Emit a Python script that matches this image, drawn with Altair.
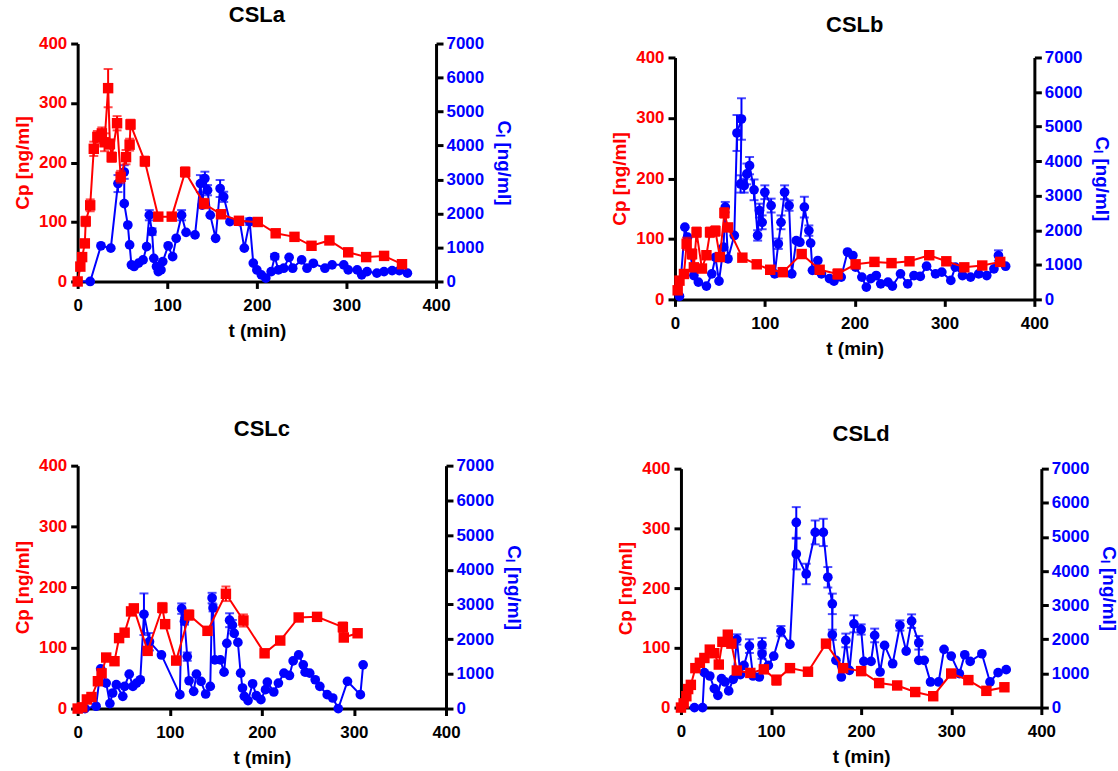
import altair as alt
import pandas as pd

# ---------------- CSLa ----------------
a_red_t = [0, 3, 5, 8, 9, 14, 18, 22, 27, 30, 34, 36, 38, 44, 48, 54, 58, 59, 75, 90, 105, 120, 141, 160, 180, 201, 221, 242, 261, 281, 302, 322, 342, 362]
a_red_v = [0, 25, 41, 64, 101, 128, 223, 243, 249, 234, 325, 231, 209, 266, 176, 209, 230, 264, 202, 109, 109, 184, 131, 113, 102, 100, 81, 75, 60, 69, 49, 41, 43, 29]
a_red_sd = [0, 0, 0, 5, 8, 10, 12, 10, 10, 15, 32, 8, 8, 12, 10, 12, 10, 8, 8, 0, 0, 8, 8, 0, 0, 0, 0, 5, 0, 0, 0, 0, 6, 0]

a_blue_t = [0, 14, 26, 37, 45, 52, 52, 56, 58, 60,
            63, 68, 73, 77, 80, 83, 85, 88, 90, 93,
            95, 101, 106, 110, 116, 121, 131, 137, 139, 142,
            145, 148, 154, 159, 163, 170, 181, 186, 192, 196,
            200, 205, 210, 216, 220, 224, 230, 236, 240, 250,
            256, 263, 276, 284, 297, 302, 312, 317, 323, 334,
            342, 351, 359, 368]
a_blue_v = [0, 0, 1050, 980, 2880, 3220, 2290, 1660, 1075, 490,
            440, 540, 635, 1025, 1950, 1465, 680, 440, 290, 340,
            585, 1050, 730, 1270, 1950, 1445, 1370, 2880, 2245, 3030,
            2685, 1950, 1270, 2735, 2490, 1760, 1760, 980, 1760, 540,
            340, 195, 100, 290, 730, 340, 390, 710, 390, 635,
            390, 535, 390, 490, 490, 340, 340, 195, 290, 245,
            290, 320, 320, 245]
a_blue_sd = [0, 0, 0, 0, 250, 200, 0, 0, 0, 0,
             0, 0, 0, 0, 150, 100, 0, 0, 0, 0,
             0, 0, 0, 0, 150, 0, 0, 250, 0, 200,
             150, 0, 0, 250, 150, 0, 100, 0, 100, 0,
             0, 0, 0, 0, 80, 0, 0, 0, 0, 0,
             0, 0, 0, 0, 0, 0, 0, 0, 0, 0,
             0, 0, 0, 0]

# ---------------- CSLb ----------------
b_red_t = [3, 5, 10, 13, 19, 21, 24, 30, 35, 39, 45, 50, 55, 59, 75, 91, 106, 120, 141, 161, 181, 201, 222, 241, 261, 283, 302, 322, 342, 362]
b_red_v = [15, 31, 42, 92, 75, 53, 111, 51, 73, 111, 113, 70, 143, 119, 69, 58, 49, 45, 75, 49, 42, 58, 62, 60, 63, 73, 63, 53, 56, 62]
b_red_sd = [0, 0, 0, 10, 8, 0, 8, 0, 0, 8, 8, 0, 8, 5, 0, 0, 0, 0, 5, 0, 8, 0, 0, 0, 0, 5, 0, 0, 0, 5]

b_blue_t = [5, 11, 14, 21, 26, 35, 41, 45, 49, 54,
            56, 59, 66, 69, 74, 73, 77, 80, 83, 88,
            92, 94, 97, 100, 107, 111, 115, 118, 122, 127,
            130, 135, 139, 144, 149, 151, 153, 159, 163, 172,
            177, 185, 192, 198, 201, 208, 213, 218, 224, 229,
            237, 242, 251, 259, 266, 273, 280, 290, 297, 307,
            312, 320, 329, 338, 347, 355, 360, 368]
b_blue_v = [90, 2090, 1800, 690, 500, 385, 740, 1220, 530, 1510,
            2670, 1175, 1850, 4815, 5220, 3340, 3290, 3630, 3870, 3170,
            1850, 2570, 2230, 3100, 2715, 740, 1610, 2230, 3100, 2715,
            740, 1700, 1655, 2670, 1990, 1630, 840, 1125, 740, 600,
            530, 645, 1370, 1270, 935, 645, 355, 600, 690, 450,
            500, 385, 740, 450, 690, 665, 960, 740, 790, 550,
            935, 690, 645, 740, 690, 885, 1270, 960]
b_blue_sd = [0, 0, 0, 0, 0, 0, 0, 0, 0, 0,
             150, 0, 0, 520, 600, 250, 200, 300, 250, 300,
             150, 200, 200, 200, 200, 0, 150, 200, 200, 150,
             0, 0, 0, 300, 150, 0, 0, 0, 0, 0,
             0, 0, 0, 0, 0, 0, 0, 0, 0, 0,
             0, 0, 0, 0, 0, 0, 0, 0, 0, 0,
             0, 0, 0, 0, 0, 0, 150, 0]

# ---------------- CSLc ----------------
c_red_t = [0, 5, 10, 15, 22, 26, 31, 40, 45, 51, 58, 61, 76, 92, 95, 107, 121, 141, 161, 180, 203, 220, 240, 260, 288, 289, 304]
c_red_v = [0, 2, 15, 19, 45, 58, 84, 78, 116, 125, 160, 165, 95, 166, 139, 79, 154, 128, 189, 145, 91, 112, 150, 151, 134, 117, 124]
c_red_sd = [0, 0, 0, 0, 0, 0, 0, 0, 0, 0, 0, 0, 0, 8, 0, 0, 8, 0, 12, 10, 0, 0, 0, 0, 8, 0, 0]

c_blue_t = [0, 8, 20, 25, 31, 35, 38, 42, 49, 51,
            56, 60, 64, 68, 72, 78, 91, 111, 113, 116,
            119, 121, 126, 129, 134, 139, 144, 146, 147, 149,
            155, 159, 162, 165, 168, 170, 174, 177, 179, 181,
            185, 190, 194, 199, 204, 206, 213, 218, 224, 230,
            234, 240, 245, 247, 252, 258, 263, 271, 277, 283,
            293, 307, 310]
c_blue_v = [0, 0, 67, 1144, 734, 143, 448, 687, 353, 639,
            992, 639, 734, 830, 2718, 1926, 1545, 400, 2880, 2518,
            1497, 801, 496, 992, 782, 420, 639, 3185, 2900, 1402,
            1402, 1049, 1879, 2546, 2403, 2165, 1907, 1020, 591, 353,
            229, 715, 372, 257, 544, 763, 477, 734, 1020, 954,
            1373, 1545, 1259, 1049, 1020, 830, 639, 400, 305, 0,
            782, 400, 1259]
c_blue_sd = [0, 0, 0, 0, 0, 0, 0, 0, 0, 0,
             0, 0, 0, 0, 600, 250, 0, 0, 150, 100,
             120, 0, 0, 0, 0, 0, 0, 150, 100, 0,
             0, 0, 0, 200, 150, 0, 0, 0, 0, 0,
             0, 0, 0, 0, 0, 0, 0, 0, 0, 0,
             0, 0, 0, 0, 0, 0, 0, 0, 0, 0,
             0, 0, 0]

# ---------------- CSLd ----------------
d_red_t = [0, 3, 6, 8, 11, 16, 21, 26, 32, 37, 42, 46, 52, 56, 62, 77, 92, 106, 121, 141, 161, 180, 200, 220, 240, 260, 280, 300, 319, 339, 359]
d_red_v = [0, 7, 19, 31, 38, 66, 75, 83, 97, 91, 72, 110, 122, 107, 62, 58, 64, 46, 66, 60, 107, 66, 61, 41, 37, 26, 19, 57, 46, 28, 34]
d_red_sd = [0, 0, 0, 0, 0, 0, 0, 0, 0, 0, 0, 0, 6, 0, 0, 0, 0, 8, 0, 0, 5, 0, 0, 0, 0, 0, 0, 0, 0, 0, 0]

d_blue_t = [15, 24, 26, 32, 37, 41, 45, 49, 53, 58,
            62, 66, 70, 76, 80, 87, 90, 90, 97, 103,
            111, 121, 128, 128, 139, 149, 158, 163, 168, 168,
            172, 178, 183, 187, 192, 200, 203, 211, 215, 221,
            226, 235, 243, 250, 256, 264, 264, 270, 277, 286,
            292, 300, 309, 315, 321, 334, 343, 352, 361]
d_blue_v = [0, 0, 1022, 925, 555, 360, 847, 750, 487, 828,
            1996, 964, 1236, 1801, 925, 896, 1840, 1577, 1236, 1509,
            2239, 1850, 5423, 4498, 3914, 5131, 5131, 3817, 3038, 2132,
            1383, 896, 1967, 1090, 2453, 2288, 1353, 1353, 2113, 1042,
            1821, 1285, 2405, 1655, 2531, 1899, 1383, 1383, 750, 750,
            1704, 1509, 993, 1548, 1353, 1577, 750, 1022, 1110]
d_blue_sd = [0, 0, 0, 0, 0, 0, 0, 0, 0, 0,
             150, 0, 0, 200, 0, 0, 200, 150, 0, 0,
             150, 0, 450, 450, 300, 350, 400, 300, 300, 150,
             0, 0, 200, 0, 250, 150, 0, 0, 200, 0,
             0, 0, 150, 0, 200, 200, 0, 0, 0, 0,
             0, 0, 0, 0, 0, 0, 0, 0, 0]

x_ticks = [0, 100, 200, 300, 400]
cp_ticks = [0, 100, 200, 300, 400]
cl_ticks = [0, 1000, 2000, 3000, 4000, 5000, 6000, 7000]

FONT = "Liberation Sans"
RED = "#FF0000"
BLUE = "#0000FF"


def frame(t, v, sd):
    return pd.DataFrame({"t": t, "v": v, "sd": sd, "i": list(range(len(t)))})


def group(df, color, shape, size, domain, axis, x, h, top):
    ys = alt.Scale(domain=domain, nice=False, zero=False, range=[h, top])
    base = alt.Chart(df)
    y = alt.Y("v:Q", scale=ys, axis=axis)
    line = base.mark_line(color=color, strokeWidth=2).encode(x=x, y=y, order="i:Q")
    pts = base.mark_point(shape=shape, filled=True, size=size, color=color, opacity=1).encode(x=x, y=y)
    eb = base.transform_filter("datum.sd > 0").transform_calculate(
        lo="datum.v - datum.sd", hi="datum.v + datum.sd")
    rule = eb.mark_rule(color=color, strokeWidth=2).encode(
        x=x, y=alt.Y("lo:Q", scale=ys, axis=axis), y2="hi:Q")
    cap_hi = eb.mark_tick(color=color, orient="horizontal", size=9, thickness=2).encode(
        x=x, y=alt.Y("hi:Q", scale=ys, axis=axis))
    cap_lo = eb.mark_tick(color=color, orient="horizontal", size=9, thickness=2).encode(
        x=x, y=alt.Y("lo:Q", scale=ys, axis=axis))
    return alt.layer(line, rule, cap_hi, cap_lo, pts)


def panel(name, red, blue, w, h, top=0, title_offset=12):
    x = alt.X("t:Q", scale=alt.Scale(domain=[0, 400], nice=False),
              axis=alt.Axis(values=x_ticks, title="t (min)", labelColor="black",
                            titleColor="black", labelFlush=False, labelPadding=9,
                            titlePadding=8, format="d"))
    red_axis = alt.Axis(orient="left", values=cp_ticks, title="Cp [ng/ml]", labelColor=RED,
                        titleColor=RED, labelFlush=False, labelPadding=4, titlePadding=6,
                        format="d")
    blue_axis = alt.Axis(orient="right", values=cl_ticks, title="Cₗ [ng/ml]", labelColor=BLUE,
                         titleColor=BLUE, labelFlush=False, labelPadding=3, titlePadding=10,
                         format="d")
    g_blue = group(blue, BLUE, "circle", 95, [0, 7000], blue_axis, x, h, top)
    g_red = group(red, RED, "square", 110, [0, 400], red_axis, x, h, top)
    return alt.layer(g_blue, g_red).resolve_scale(y="independent").properties(
        width=w, height=h,
        title=alt.TitleParams(name, fontSize=22, font=FONT, fontWeight="bold",
                              color="black", offset=title_offset))


pa = panel("CSLa", frame(a_red_t, a_red_v, a_red_sd), frame(a_blue_t, a_blue_v, a_blue_sd), 360, 239, 0, 8)
pb = panel("CSLb", frame(b_red_t, b_red_v, b_red_sd), frame(b_blue_t, b_blue_v, b_blue_sd), 361, 257, 14, 7)
pc = panel("CSLc", frame(c_red_t, c_red_v, c_red_sd), frame(c_blue_t, c_blue_v, c_blue_sd), 370, 244, 0, 16)
pd_ = panel("CSLd", frame(d_red_t, d_red_v, d_red_sd), frame(d_blue_t, d_blue_v, d_blue_sd), 362, 243, 3, 14)

row1 = alt.hconcat(pa, pb, spacing=98)
row2 = alt.hconcat(pc, pd_, spacing=94)
chart = alt.vconcat(row1, row2, spacing=60).properties(
    padding={"left": 13, "top": 2, "right": 0, "bottom": 5},
    background="white"
).configure_view(stroke=None).configure_axis(
    grid=False, domainColor="black", domainWidth=3, tickColor="black", tickWidth=3,
    tickSize=7, labelFont=FONT, labelFontSize=17, labelFontWeight="bold",
    titleFont=FONT, titleFontSize=19, titleFontWeight="bold"
)

chart.save("out.html", embed_options={"renderer": "svg", "actions": False})
